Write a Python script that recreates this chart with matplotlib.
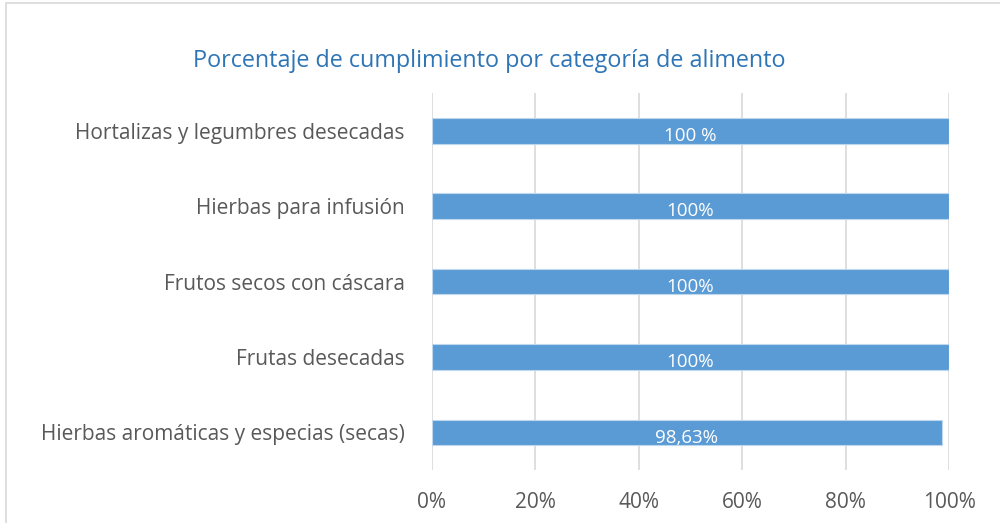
import matplotlib.pyplot as plt
from matplotlib.patches import Rectangle

categorias = ['Hierbas aromáticas y especias (secas)', 'Frutas desecadas',
              'Frutos secos con cáscara', 'Hierbas para infusión',
              'Hortalizas y legumbres desecadas']
cumplimiento = [98.63, 100, 100, 100, 100]
etiquetas = ['98,63%', '100%', '100%', '100%', '100 %']
ticks_x = [0, 20, 40, 60, 80, 100]

plt.rcParams['font.family'] = ['Open Sans', 'DejaVu Sans']

fig = plt.figure(figsize=(10, 5.23), dpi=100)
ax = fig.add_axes([0.432, 0.1013, 0.517, 0.7207])

pos = range(len(categorias))
ax.barh(pos, cumplimiento, height=0.34, color='#5B9BD5', edgecolor='#BDD7EE', linewidth=0.8, zorder=3)
for i, (v, t) in enumerate(zip(cumplimiento, etiquetas)):
    ax.text(v / 2, i - 0.07, t, ha='center', va='center', color='white', fontsize=13.5, zorder=4)

ax.set_xlim(0, 100)
ax.set_ylim(-0.5, len(categorias) - 0.5)
ax.set_xticks(ticks_x)
ax.set_xticklabels([f'{t}%' for t in ticks_x])
ax.set_yticks(list(pos))
ax.set_yticklabels(categorias)
ax.tick_params(axis='both', length=0, colors='#595959', labelsize=15)
ax.tick_params(axis='y', pad=19.5)
ax.tick_params(axis='x', pad=16)
ax.grid(axis='x', color='#D9D9D9', linewidth=1.2, zorder=0)
for s in ax.spines.values():
    s.set_visible(False)

fig.text(0.489, 0.884, 'Porcentaje de cumplimiento por categoría de alimento',
         ha='center', va='center', color='#2E75B6', fontsize=16.8)

# borde del gráfico (solo visible arriba e izquierda)
fig.patches.append(Rectangle((0.006, -0.05), 1.1, 1.044, transform=fig.transFigure,
                             fill=False, edgecolor='#D9D9D9', linewidth=1.2))

fig.savefig('out.png', dpi=100)
